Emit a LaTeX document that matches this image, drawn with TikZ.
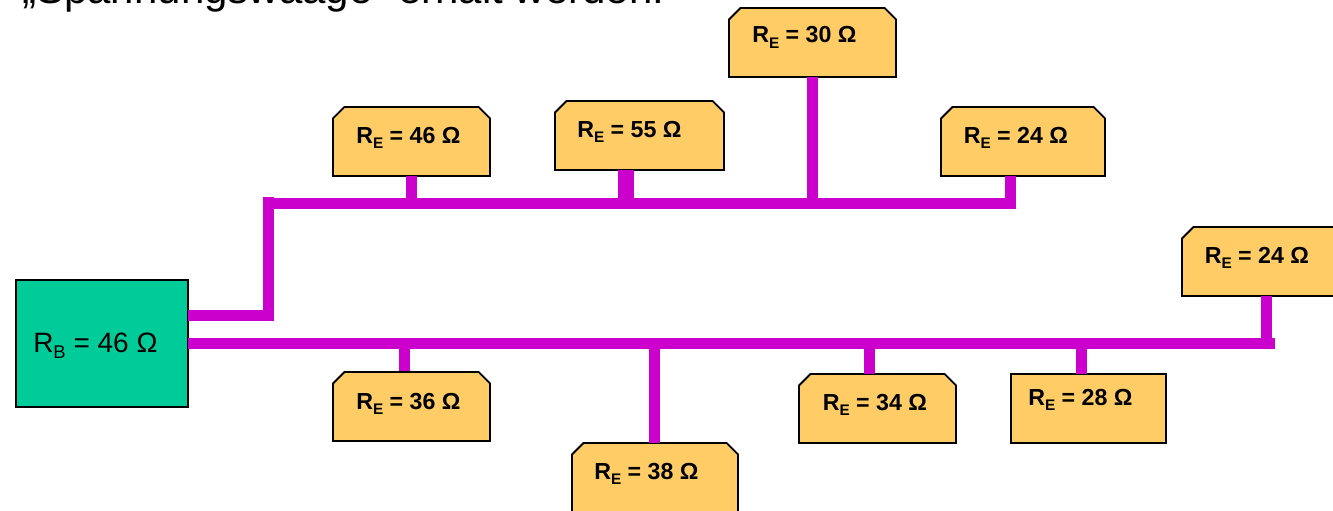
\documentclass[tikz,border=0pt]{standalone}
\usepackage{fontspec}
\setmainfont{Liberation Sans}
\definecolor{wirec}{HTML}{CC00CC}
\definecolor{boxc}{HTML}{FFCC66}
\definecolor{basec}{HTML}{00CC99}
\newcommand{\Elab}[1]{R\raisebox{-0.22em}{\fontsize{11.5pt}{12pt}\selectfont E} = #1 Ω}
% outline with both upper corners cut, built on a named node's anchors
\newcommand{\snipoutline}[1]{%
  \draw[boxline] ([xshift=8.6pt]#1.north west) -- ([xshift=-8.6pt]#1.north east)
    -- ([yshift=-8.6pt]#1.north east) -- (#1.south east) -- (#1.south west)
    -- ([yshift=-8.6pt]#1.north west) -- cycle;}
\tikzset{
  x=0.75pt,y=-0.75pt,
  wire/.style={draw=wirec,line width=8.25pt},
  wirethick/.style={draw=wirec,line width=12pt},
  boxline/.style={draw=black,fill=boxc,line width=1.35pt,line join=miter},
  snipbox/.style 2 args={inner sep=0pt,outer sep=0pt,rectangle,
    minimum width=#1*0.75pt,minimum height=#2*0.75pt},
  plainbox/.style 2 args={draw=black,fill=boxc,line width=1.1pt,inner sep=0pt,outer sep=0pt,
    rectangle,minimum width=#1*0.75pt,minimum height=#2*0.75pt},
  elabel/.style={anchor=base west,inner sep=0pt,font=\fontsize{17.4pt}{20pt}\selectfont\bfseries},
}
\begin{document}
\begin{tikzpicture}
\useasboundingbox (0,0) rectangle (1333,510);
\clip (0,0) rectangle (1333,510);
\node[anchor=base west,inner sep=0pt,font=\fontsize{31.5pt}{34pt}\selectfont] (title) at (22,4) {„Spannungswaage“ erhält werden.};

% boxes
\node[draw=black,fill=basec,line width=1.1pt,inner sep=0pt,outer sep=0pt,minimum width=129pt,minimum height=95.25pt] (rb) at (102,343.5) {};
\node[snipbox={157}{69}] (e46) at (411.5,141.5) {};
\node[snipbox={169}{69}] (e55) at (639.5,135.5) {};
\node[snipbox={167}{69}] (e30) at (812.5,42.5) {};
\node[snipbox={164}{69}] (e24a) at (1023,141.5) {};
\node[snipbox={163}{69}] (e24b) at (1263.5,261.5) {};
\node[snipbox={157}{69}] (e36) at (411.5,406.5) {};
\node[snipbox={166}{69}] (e38) at (655,477.5) {};
\node[snipbox={157}{69}] (e34) at (877.5,408.5) {};
\node[plainbox={155}{69}] (e28) at (1088.5,408.5) {};
\snipoutline{e46}\snipoutline{e55}\snipoutline{e30}\snipoutline{e24a}\snipoutline{e24b}
\snipoutline{e36}\snipoutline{e38}\snipoutline{e34}

% junctions
\coordinate (upper) at (268.5,203);
\coordinate (upperEnd) at (1016,203);
\coordinate (feed) at (268.5,315.5);
\coordinate (lower) at (188,343.5);
\coordinate (lowerEnd) at (1275,343.5);
\coordinate (j46) at (411.5,203);
\coordinate (j55) at (626,203);
\coordinate (j30) at (812.5,203);
\coordinate (j24a) at (1010.5,203);
\coordinate (j24b) at (1266.5,343.5);
\coordinate (j36) at (404.5,343.5);
\coordinate (j38) at (654.5,343.5);
\coordinate (j34) at (869.5,343.5);
\coordinate (j28) at (1081.5,343.5);

% connectors
\draw[wire] (rb.east |- feed) -- ([xshift=3.75pt]feed);
\draw[wire] ([yshift=-3.75pt]feed) -- ([yshift=4.5pt]upper);
\draw[wire] ([xshift=-3.75pt]upper) -- (upperEnd);
\draw[wire] (lower) -- (lowerEnd);
\draw[wire] (j46) -- (j46 |- e46.south);
\draw[wirethick] (j55) -- (j55 |- e55.south);
\draw[wire] (j30) -- (j30 |- e30.south);
\draw[wire] (j24a) -- (j24a |- e24a.south);
\draw[wire] (j24b) -- (j24b |- e24b.south);
\draw[wire] (j36) -- ([yshift=1pt]j36 |- e36.north);
\draw[wire] (j38) -- (j38 |- e38.north);
\draw[wire] (j34) -- (j34 |- e34.north);
\draw[wire] (j28) -- (j28 |- e28.north);

% labels
\node[anchor=base west,inner sep=0pt,font=\fontsize{21pt}{24pt}\selectfont] (trb) at (33,352) {R\raisebox{-0.22em}{\fontsize{13.8pt}{15pt}\selectfont B} = 46 Ω};
\node[elabel] (t46) at (356,143) {\Elab{46}};
\node[elabel] (t55) at (577,137) {\Elab{55}};
\node[elabel] (t30) at (752,43) {\Elab{30}};
\node[elabel] (t24a) at (963.5,143) {\Elab{24}};
\node[elabel] (t24b) at (1204.5,263) {\Elab{24}};
\node[elabel] (t36) at (356,409) {\Elab{36}};
\node[elabel] (t38) at (594,479) {\Elab{38}};
\node[elabel] (t34) at (822.5,410) {\Elab{34}};
\node[elabel] (t28) at (1028,405) {\Elab{28}};
\end{tikzpicture}
\end{document}
